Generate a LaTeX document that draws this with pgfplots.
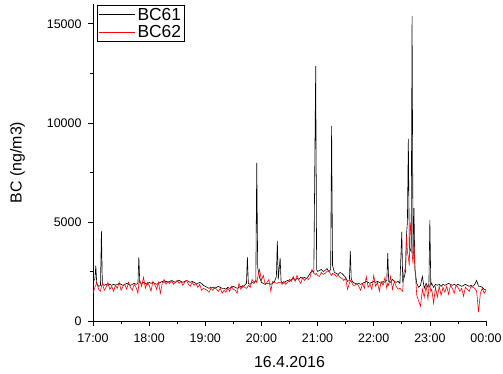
\documentclass[border=0pt]{standalone}
\usepackage{fontspec}
\setmainfont{Liberation Sans}
\usepackage{pgfplots}
\usepackage{pgfplotstable}
\pgfplotsset{compat=1.18}
\pgfplotstableread{
t B R
0 2000 1400
2 2100 1700
3 2800 1800
4 1900 1950
6 1750 1600
8 1800 1500
9 4550 1750
10 1850 1900
12 1800 1550
14 1850 1700
16 1800 1950
18 1850 1600
20 1800 1750
22 1850 1500
24 1800 1800
26 1850 1650
28 1900 1950
30 1850 1550
32 1800 1750
34 1850 1850
36 1900 1600
38 1850 1950
40 1800 1700
42 1850 1550
44 1900 1850
46 1850 1700
48 1900 1400
49 3230 1900
50 1950 2050
52 1900 1750
54 1950 2200
56 1900 1650
58 1850 1950
60 1950 1800
62 1900 1500
64 1950 2000
66 1900 1850
68 1850 1600
70 1900 1950
72 1950 1400
74 2000 1900
76 1950 2100
78 2000 1850
80 1950 2000
82 2000 1900
84 2050 2050
86 2000 1850
88 1950 1950
90 2000 2050
92 2050 1900
94 2000 2000
96 1950 1800
98 2000 1950
100 2050 2050
102 2000 1850
104 1950 1750
106 2000 1950
108 1950 1800
110 1900 1900
112 1900 1700
114 1950 1850
116 1900 1550
118 1800 1650
120 1750 1600
122 1700 1550
124 1650 1450
126 1700 1650
128 1700 1550
130 1650 1700
132 1700 1600
134 1750 1500
136 1700 1650
138 1650 1400
140 1650 1550
142 1600 1450
144 1700 1650
146 1650 1500
148 1700 1750
150 1750 1600
152 1700 1550
154 1650 1400
156 1700 1900
158 1750 1600
160 1700 1800
162 1800 1700
164 1900 1650
165 3230 1700
166 1900 1800
168 1850 1700
170 1950 2100
172 1900 1950
174 2000 2050
175 7980 1950
176 2700 2200
178 2200 2600
180 1950 2050
182 1900 2300
184 1850 1850
186 1900 1950
188 1900 2100
190 1850 1500
192 1900 2000
194 2000 1950
196 2250 1900
197 4040 1900
198 2100 1950
200 3180 1950
201 2000 1950
202 1950 1850
204 1900 2000
206 2000 1850
208 2050 1950
210 2000 2100
212 2100 2000
214 2150 2250
216 2050 2000
218 2150 2300
220 2100 2050
222 2200 1900
224 2150 2200
226 2200 2050
228 2150 2150
230 2250 2100
232 2400 2200
234 2550 2600
236 2450 2400
238 12880 2350
239 2600 2400
240 2500 2300
242 2550 2250
244 2600 2450
246 2500 2350
248 2550 2400
250 2650 2500
252 2500 2550
254 2600 2350
255 9850 2300
256 2800 2400
258 2450 2350
260 2400 2250
262 2350 2300
264 2450 2200
266 2400 2150
268 2300 2050
270 2200 2150
272 2000 1600
274 2050 1900
275 3540 2050
276 2100 2000
278 1950 1800
280 1900 1800
282 1850 1900
284 1900 1750
286 1850 1550
288 1900 1900
290 1950 1650
292 2000 2250
294 1950 1700
296 1900 1850
298 1950 1600
300 2000 2300
302 1950 1750
304 2000 1950
306 1950 1500
308 1900 2000
310 2000 1800
312 1950 2200
314 2050 1650
315 3430 1900
316 2000 1800
318 1950 2250
320 2100 1600
322 2000 2000
324 1950 1750
326 2000 1600
328 1900 1650
330 4500 1550
331 2000 1500
332 2100 2400
334 2500 2700
335 4300 4300
336 5000 3500
337 9190 3200
338 3800 2800
339 3600 4960
340 3500 4500
341 15400 3400
342 3300 2900
343 5700 4000
344 2600 2800
346 1900 1300
348 1700 1000
350 1800 750
352 2250 1600
354 1650 1200
356 1900 1800
358 1700 1100
359 1900 1700
360 5100 1800
361 1800 1500
362 1900 1600
364 1700 900
366 1850 1700
368 1800 1200
370 1850 1750
372 1750 1300
374 1850 1700
376 1800 1450
378 1850 1750
380 1900 1350
382 1850 1800
384 1800 1650
386 1850 1400
388 1800 1800
390 1850 1700
392 1800 1500
394 1750 1650
396 1800 1250
398 1850 1700
400 1800 1600
402 1750 1500
404 1800 1750
406 1750 1700
408 1850 1650
410 2050 1500
412 1750 450
414 1750 1400
416 1700 1650
418 1600 1400
420 1600 1550
}\datatable
\begin{document}
\begin{tikzpicture}
\begin{axis}[
  scale only axis,
  width=393bp, height=317bp,
  xmin=0, xmax=420, ymin=0, ymax=16000,
  axis lines*=left,
  axis line style={line width=0.8pt},
  tick align=outside,
  major tick length=5bp, minor tick length=3bp,
  tick style={line width=0.7pt, black},
  xtick={0,60,...,420},
  xticklabels={17:00,18:00,19:00,20:00,21:00,22:00,23:00,00:00},
  minor x tick num=1,
  ytick={0,5000,10000,15000},
  minor y tick num=1,
  scaled y ticks=false,
  /pgf/number format/assume math mode=true,
  /pgf/number format/set thousands separator={},
  ticklabel style={font=\fontsize{12.5}{14}\selectfont},
  xticklabel style={yshift=-4bp},
  yticklabel style={xshift=-3bp},
  xlabel={16.4.2016},
  ylabel={BC (ng/m3)},
  label style={font=\fontsize{16}{18}\selectfont},
  xlabel style={at={(axis description cs:0.5,0)}, anchor=north, yshift=-35bp, inner sep=0pt},
  ylabel style={at={(axis description cs:-0.173,0.5)}, anchor=south, rotate=0, inner sep=0pt},
  legend style={at={(axis description cs:0.01,0.997)}, anchor=north west,
    font=\fontsize{17.5}{19}\selectfont, draw=black, line width=0.8pt,
    inner xsep=1bp, inner ysep=0bp, row sep=-1.5bp,
    nodes={inner sep=2.5bp}},
  legend cell align=left,
  legend image code/.code={\draw[#1, line width=0.7pt] (0bp,0bp) -- (36bp,0bp);},
]
\addplot[black, line width=0.6pt] table[x=t, y=B] {\datatable};
\addlegendentry{BC61}
\addplot[red, line width=0.6pt] table[x=t, y=R] {\datatable};
\addlegendentry{BC62}
\end{axis}
\pgfresetboundingbox
\path ([xshift=-93bp,yshift=-52bp]current axis.south west) rectangle ([xshift=17bp,yshift=4bp]current axis.north east);
\end{tikzpicture}
\end{document}
